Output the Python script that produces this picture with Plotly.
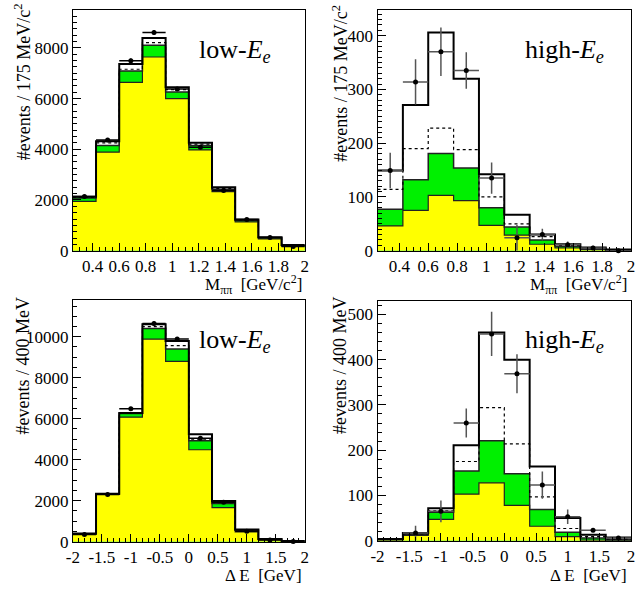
import numpy as np
import plotly.graph_objects as go

# ---------------- data ----------------
m_edges = [0.25, 0.425, 0.6, 0.775, 0.95, 1.125, 1.3, 1.475, 1.65, 1.825, 2.0]
de_edges = [-2.0, -1.6, -1.2, -0.8, -0.4, 0.0, 0.4, 0.8, 1.2, 1.6, 2.0]

# low-Ee, M(pipi)  (stack tops, cumulative)
lowM_yellow = [1945, 3890, 6640, 7640, 6000, 3980, 2330, 1140, 467, 181]
lowM_green = [2075, 4150, 7090, 8100, 6260, 4150, 2424, 1193, 506, 207]
lowM_dotted = [2100, 4253, 7157, 8207, 6353, 4201, 2460, 1215, 520, 214]
lowM_total = [2126, 4318, 7365, 8389, 6444, 4253, 2502, 1232, 532, 220]
lowM_data = [2140, 4370, 7494, 8609, 6379, 4084, 2373, 1232, 519, 169]
lowM_err = [46, 66, 87, 93, 80, 64, 49, 35, 23, 13]

# high-Ee, M(pipi)
highM_yellow = [46, 75, 103, 93, 47, 29, 12, 5, 2, 0.5]
highM_green = [77, 132, 181, 154, 80, 44, 20, 8, 3, 0.6]
highM_dotted = [114, 190, 228, 188, 100, 50, 26, 10, 5, 1]
highM_total = [149, 271, 406, 320, 142, 67, 30, 12, 6, 2]
highM_data = [149, 314, 370, 335, 135, 24, 30, 11, 5, 0]
highM_err = [33, 42, 45, 34, 29, 24, 11, 6, 4, 2]

# low-Ee, Delta E
lowE_yellow = [352, 2308, 6074, 9888, 8798, 4487, 1667, 481, 96, 16]
lowE_green = [385, 2324, 6250, 10400, 9407, 4920, 1859, 561, 112, 32]
lowE_dotted = [395, 2335, 6270, 10497, 9567, 5000, 1907, 577, 120, 32]
lowE_total = [400, 2340, 6282, 10609, 9792, 5240, 1987, 593, 128, 32]
lowE_data = [352, 2308, 6490, 10641, 9888, 5048, 1923, 513, 80, 5]
lowE_err = [19, 48, 81, 103, 99, 71, 44, 23, 9, 3]

# high-Ee, Delta E
highE_yellow = [1.4, 12, 47, 103, 128, 78, 32, 9, 1.5, 0.7]
highE_green = [3.6, 14, 63, 154, 221, 148, 69, 19, 6, 2]
highE_dotted = [3.6, 15, 66, 175, 294, 214, 97, 27, 9, 3.6]
highE_total = [4, 17, 72, 211, 460, 400, 164, 50, 13, 7]
highE_data = [-2, 17, 65, 260, 457, 369, 123, 53, 23, 6]
highE_err = [3, 16, 24, 32, 49, 43, 30, 16, 4, 4]

m_ticks = [0.4, 0.6, 0.8, 1.0, 1.2, 1.4, 1.6, 1.8, 2.0]
m_ticktext = ["0.4", "0.6", "0.8", "1", "1.2", "1.4", "1.6", "1.8", "2"]
de_ticks = [-2, -1.5, -1, -0.5, 0, 0.5, 1, 1.5, 2]
de_ticktext = ["-2", "-1.5", "-1", "-0.5", "0", "0.5", "1", "1.5", "2"]

lowM_yticks = [0, 2000, 4000, 6000, 8000]
highM_yticks = [0, 100, 200, 300, 400]
lowE_yticks = [0, 2000, 4000, 6000, 8000, 10000]
highE_yticks = [0, 100, 200, 300, 400, 500]

YELLOW = "#ffff00"
GREEN = "#00f000"
FONT = "Liberation Serif"
W, H = 640, 593


def px(x):
    return x / W


def py(y):
    return 1 - y / H


panels = [
    dict(edges=m_edges, yel=lowM_yellow, grn=lowM_green, dot=lowM_dotted, tot=lowM_total,
         data=lowM_data, err=lowM_err, xt=m_ticks, xtt=m_ticktext, yt=lowM_yticks,
         yr=[0, 9500], xminor=0.05, yminor=250, dom_x=[px(67), px(303)], dom_y=[py(255), py(10)],
         errcol="black"),
    dict(edges=m_edges, yel=highM_yellow, grn=highM_green, dot=highM_dotted, tot=highM_total,
         data=highM_data, err=highM_err, xt=m_ticks, xtt=m_ticktext, yt=highM_yticks,
         yr=[0, 448], xminor=0.05, yminor=10, dom_x=[px(377), px(635)], dom_y=[py(255), py(10)],
         errcol="#555555"),
    dict(edges=de_edges, yel=lowE_yellow, grn=lowE_green, dot=lowE_dotted, tot=lowE_total,
         data=lowE_data, err=lowE_err, xt=de_ticks, xtt=de_ticktext, yt=lowE_yticks,
         yr=[0, 11800], xminor=0.1, yminor=500, dom_x=[px(67), px(303)], dom_y=[py(551), py(305)],
         errcol="black"),
    dict(edges=de_edges, yel=highE_yellow, grn=highE_green, dot=highE_dotted, tot=highE_total,
         data=highE_data, err=highE_err, xt=de_ticks, xtt=de_ticktext, yt=highE_yticks,
         yr=[0, 530], xminor=0.1, yminor=20, dom_x=[px(377), px(635)], dom_y=[py(550), py(306)],
         errcol="#555555"),
]

fig = go.Figure()


def step(vals):
    return list(vals) + [vals[-1]]


for i, p in enumerate(panels):
    n = "" if i == 0 else str(i + 1)
    xa, ya = "x" + n, "y" + n
    edges = np.array(p["edges"])
    centers = 0.5 * (edges[:-1] + edges[1:])
    half = 0.5 * np.diff(edges)
    # fills
    for vals, col in [(p["grn"], GREEN), (p["yel"], YELLOW)]:
        fig.add_trace(go.Scatter(x=edges, y=step(vals), mode="lines", line=dict(shape="hv", width=0),
                                 fill="tozeroy", fillcolor=col, xaxis=xa, yaxis=ya,
                                 showlegend=False, hoverinfo="skip"))
    # outlines
    for vals, w, dash, col in [(p["yel"], 1.2, "solid", "#222222"), (p["grn"], 1.5, "solid", "#222222"),
                               (p["dot"], 1.2, "dot", "black"), (p["tot"], 2, "solid", "black")]:
        fig.add_trace(go.Scatter(x=edges, y=step(vals), mode="lines",
                                 line=dict(shape="hv", width=w, dash=dash, color=col),
                                 xaxis=xa, yaxis=ya, showlegend=False, hoverinfo="skip"))
    # data points
    fig.add_trace(go.Scatter(x=centers, y=p["data"], mode="markers",
                             marker=dict(symbol="circle", size=5, color="black"),
                             error_x=dict(type="data", array=half, color=p["errcol"], thickness=1.5, width=0),
                             error_y=dict(type="data", array=p["err"], color=p["errcol"], thickness=1.5, width=0),
                             xaxis=xa, yaxis=ya, showlegend=False, cliponaxis=False))

    common = dict(showline=True, mirror=True, linecolor="black", linewidth=1, showgrid=False,
                  zeroline=False, ticks="inside", ticklen=8, tickwidth=1, tickcolor="black",
                  tickfont=dict(family=FONT, size=17, color="black"))
    fig.layout["xaxis" + n] = dict(domain=p["dom_x"], range=[p["edges"][0], p["edges"][-1]],
                                    anchor=ya, tickmode="array", tickvals=p["xt"], ticktext=p["xtt"],
                                    minor=dict(ticks="inside", ticklen=4, tickcolor="black",
                                               tickmode="linear", tick0=0, dtick=p["xminor"]),
                                    **common)
    fig.layout["yaxis" + n] = dict(domain=p["dom_y"], range=p["yr"], anchor=xa,
                                    tickmode="array", tickvals=p["yt"], ticktext=[str(v) for v in p["yt"]],
                                    minor=dict(ticks="inside", ticklen=4, tickcolor="black",
                                               tickmode="linear", tick0=0, dtick=p["yminor"]),
                                    **common)

ann = []
tfont = dict(family=FONT, size=18, color="black")
xfont = dict(family=FONT, size=17, color="black")
# y titles
for (x, y, t) in [(16, 83, "#events / 175 MeV/c<sup>2</sup>"), (339, 85, "#events / 175 MeV/c<sup>2</sup>"),
                  (16, 372, "#events / 400 MeV"), (339, 372, "#events / 400 MeV")]:
    ann.append(dict(x=px(x), y=py(y), xref="paper", yref="paper", text=t, textangle=-90,
                    showarrow=False, xanchor="center", yanchor="middle", font=tfont))
# x titles
for (x, y, t) in [(302, 289, "M<sub>ππ</sub>\u00a0\u00a0[GeV/c<sup>2</sup>]"),
                  (633, 289, "M<sub>ππ</sub>\u00a0\u00a0[GeV/c<sup>2</sup>]"),
                  (302, 585, "Δ E\u00a0\u00a0[GeV]"), (633, 585, "Δ E\u00a0\u00a0[GeV]")]:
    ann.append(dict(x=px(x), y=py(y), xref="paper", yref="paper", text=t,
                    showarrow=False, xanchor="right", yanchor="middle", font=xfont))
# panel labels
lfont = dict(family=FONT, size=26, color="black")
for (x, y, t) in [(193, 52, "low-<i>E</i><sub><i>e</i></sub>"), (525, 52, "high-<i>E</i><sub><i>e</i></sub>"),
                  (193, 347, "low-<i>E</i><sub><i>e</i></sub>"), (525, 347, "high-<i>E</i><sub><i>e</i></sub>")]:
    ann.append(dict(x=px(x), y=py(y), xref="paper", yref="paper", text=t,
                    showarrow=False, xanchor="left", yanchor="middle", font=lfont))

fig.update_layout(width=W, height=H, margin=dict(l=0, r=0, t=0, b=0),
                  paper_bgcolor="white", plot_bgcolor="white", annotations=ann,
                  showlegend=False)

fig.write_html("out.html", config={"displayModeBar": False},
               post_script="document.body.style.margin='0';document.body.style.padding='0';")
